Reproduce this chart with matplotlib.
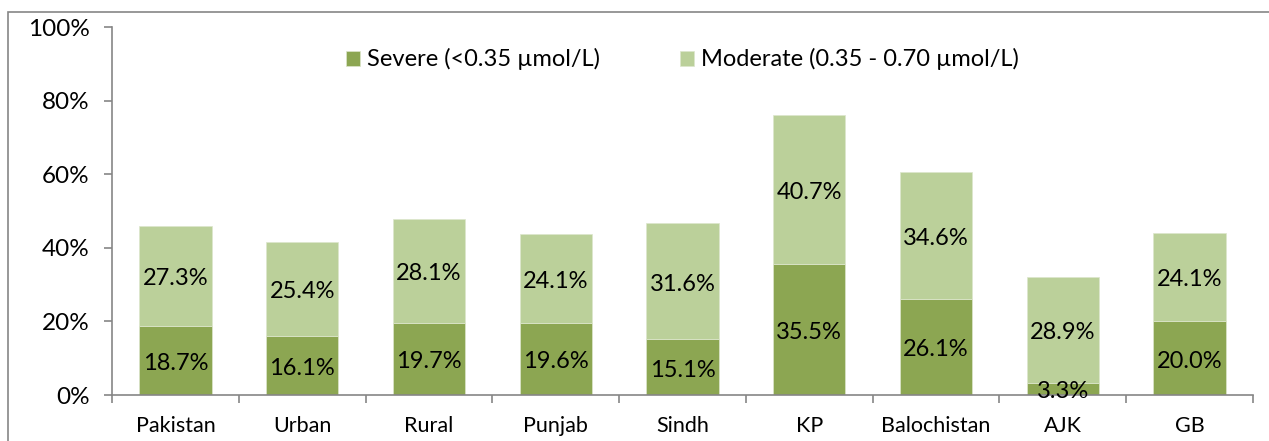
import matplotlib.pyplot as plt
from matplotlib.patches import Rectangle
import numpy as np

plt.rcParams['font.family'] = ['Lato', 'DejaVu Sans']

# Veriler
bolgeler = ['Pakistan', 'Urban', 'Rural', 'Punjab', 'Sindh', 'KP', 'Balochistan', 'AJK', 'GB']
siddetli = [18.7, 16.1, 19.7, 19.6, 15.1, 35.5, 26.1, 3.3, 20.0]
orta = [27.3, 25.4, 28.1, 24.1, 31.6, 40.7, 34.6, 28.9, 24.1]
seri_adlari = ['Severe (<0.35 µmol/L)', 'Moderate (0.35 - 0.70 µmol/L)']

koyu = '#8CA652'
acik = '#BBD09A'
gri = '#868686'

fig = plt.figure(figsize=(12.69, 4.41), dpi=100)
ax = fig.add_axes([112 / 1269, 46 / 441, 1141 / 1269, 368 / 441])

# Dis cerceve (kirpilmis)
fig.patches.append(Rectangle((8 / 1269, -0.1), 1.2, (441 - 12) / 441 + 0.1,
                             transform=fig.transFigure, fill=False,
                             edgecolor=gri, linewidth=1.2))

x = np.arange(len(bolgeler))
alt = np.array(siddetli)
ust = np.array(orta)
ax.bar(x, alt, width=0.57, color=koyu, label=seri_adlari[0],
       edgecolor='#DDE6CC', linewidth=0.5)
ax.bar(x, ust, width=0.57, bottom=alt, color=acik, label=seri_adlari[1],
       edgecolor='#DDE6CC', linewidth=0.5)

# Etiketler (Excel gibi biraz asagida)
for i in range(len(bolgeler)):
    ax.text(x[i], alt[i] / 2 - 0.8, f'{alt[i]:.1f}%', ha='center', va='center', fontsize=17)
    ax.text(x[i], alt[i] + ust[i] / 2 - 0.8, f'{ust[i]:.1f}%', ha='center', va='center', fontsize=17)

ax.set_xlim(-0.5, len(bolgeler) - 0.5)
ax.set_ylim(0, 100)
ax.set_yticks(range(0, 101, 20))
ax.set_yticklabels([f'{v}%' for v in range(0, 101, 20)], fontsize=17.5)
ax.set_xticks(x)
ax.set_xticklabels(bolgeler, fontsize=15.5)
ax.tick_params(axis='x', length=0, pad=15)
ax.set_xticks(np.arange(-0.5, len(bolgeler)), minor=True)
ax.tick_params(axis='x', which='minor', length=6, color=gri, width=1.2)
ax.tick_params(axis='y', length=6, color=gri, width=1.2, pad=10)

for s in ['top', 'right']:
    ax.spines[s].set_visible(False)
for s in ['left', 'bottom']:
    ax.spines[s].set_color(gri)
    ax.spines[s].set_linewidth(1.2)

ax.legend(loc='upper center', bbox_to_anchor=(0.5, 1.0), ncol=2, frameon=False,
          fontsize=17, handlelength=0.6, handleheight=0.6, handletextpad=0.3,
          columnspacing=3.4)

fig.savefig('out.png', dpi=100)
